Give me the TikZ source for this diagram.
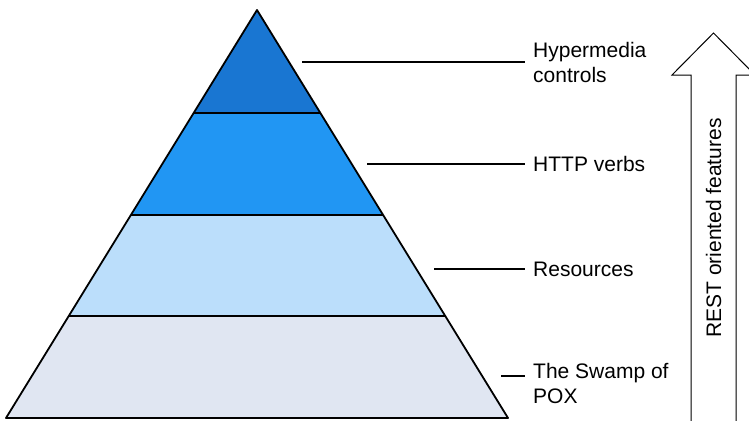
\documentclass[tikz,border=0pt]{standalone}
\usepackage{fontspec}
\setmainfont{Liberation Sans}
\definecolor{lay1}{RGB}{25,118,210}
\definecolor{lay2}{RGB}{33,150,243}
\definecolor{lay3}{RGB}{187,222,251}
\definecolor{lay4}{RGB}{224,230,242}
\begin{document}
\begin{tikzpicture}[x=1pt,y=-1pt,
  layer/.style={draw=black,line width=1.8pt,line join=round},
  leader/.style={draw=black,line width=1.1pt},
  lbl/.style={anchor=west,inner xsep=8pt,inner ysep=0pt,align=left,font=\fontsize{21}{25}\selectfont},
  upbox/.style={draw=black,line width=1pt,fill=white,line join=miter}]
\useasboundingbox (0,0) rectangle (749,420);
\clip (0,0) rectangle (749,420);
% pyramid layers
\fill[lay4] (68.8,316) -- (445.2,316) -- (508,418) -- (6,418) -- cycle;
\fill[lay3] (130.9,215) -- (383.1,215) -- (445.2,316) -- (68.8,316) -- cycle;
\fill[lay2] (193.6,113) -- (320.4,113) -- (383.1,215) -- (130.9,215) -- cycle;
\fill[lay1] (257,10) -- (320.4,113) -- (193.6,113) -- cycle;
\draw[layer] (257,10) -- (508,418) -- (6,418) -- cycle;
\draw[layer] (193.6,113) -- (320.4,113);
\draw[layer] (130.9,215) -- (383.1,215);
\draw[layer] (68.8,316) -- (445.2,316);
% labels
\node[lbl] (l1) at (525,62) {Hypermedia\\controls};
\node[lbl] (l2) at (525,164) {HTTP verbs};
\node[lbl] (l3) at (525,269) {Resources};
\node[lbl] (l4) at (525,383) {The Swamp of\\POX};
\coordinate (s1) at (302,62);
\coordinate (s2) at (367,164);
\coordinate (s3) at (434,269);
\coordinate (s4) at (501,376);
\draw[leader] (s1) -- (s1 -| l1.west);
\draw[leader] (s2) -- (s2 -| l2.west);
\draw[leader] (s3) -- (s3 -| l3.west);
\draw[leader] (s4) -- (s4 -| l4.west);
% arrow
\draw[upbox] (713.5,33) -- (755,75) -- (736,75) -- (736,440) -- (691,440) -- (691,75) -- (672,75) -- cycle;
\node[rotate=90,inner sep=0pt,font=\fontsize{21}{25}\selectfont] (rest) at (713.5,228) {REST oriented features};
\end{tikzpicture}
\end{document}
